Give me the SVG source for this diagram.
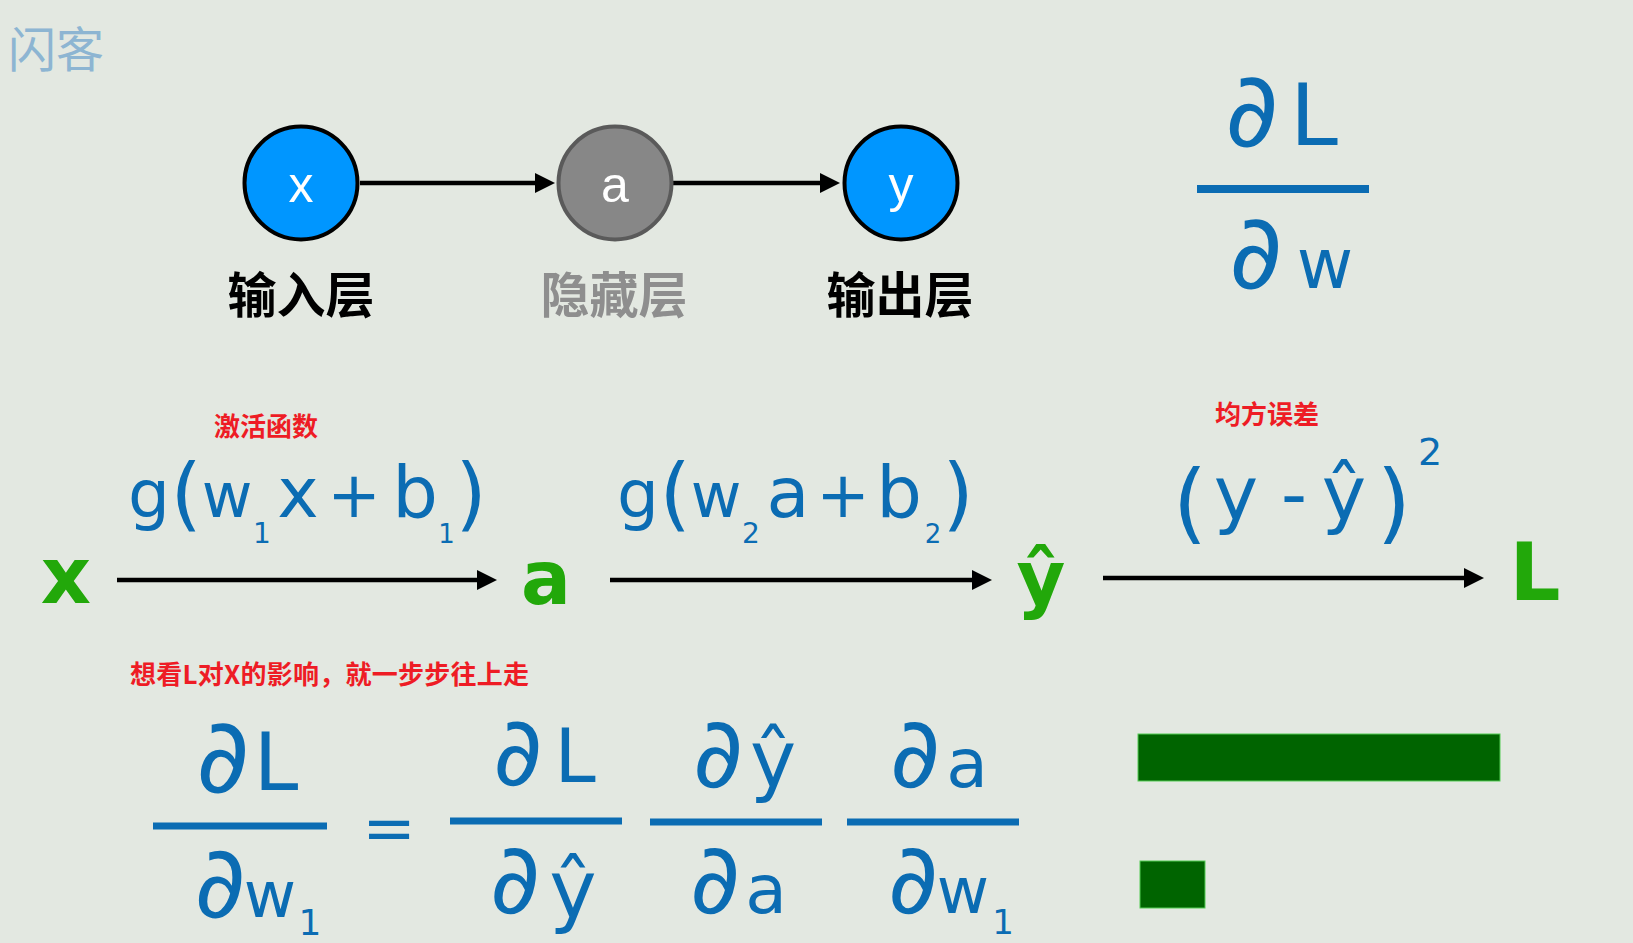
<svg xmlns="http://www.w3.org/2000/svg" width="1633" height="943" viewBox="0 0 1633 943">
<style>
.bg{fill:#e3e8e1}
.node circle{stroke-width:4}
.blue{stroke:#000;fill:#0096ff}
.grey{fill:#878787;stroke:#5a5a5a}
.nl{font-family:"Liberation Sans",Arial,sans-serif;font-size:50px;fill:#fff;text-anchor:middle}
.lab{font-family:"Noto Sans CJK SC",sans-serif;font-weight:700;font-size:49px;text-anchor:middle}
.m{font-family:"DejaVu Sans",sans-serif;fill:#0b6cb3;text-anchor:middle}
.gr{font-family:"DejaVu Sans",sans-serif;fill:#22a80a;font-weight:bold;text-anchor:middle}
.red{font-family:"Noto Sans CJK SC",sans-serif;font-weight:700;fill:#ee1c25;font-size:26px}
.conn{stroke:#000;stroke-width:4.5;fill:none}
.fl{fill:#0b6cb3}
.gb{fill:#006400;stroke:#55cc55;stroke-width:1}
.wm{font-family:"Noto Sans CJK SC",sans-serif;font-size:48px;fill:#8db5d2}
</style>
<defs>
<marker id="ah" markerWidth="20" markerHeight="20" refX="8" refY="10" orient="auto" markerUnits="userSpaceOnUse">
<path d="M0,0 L20,10 L0,20 z" fill="#000"/>
</marker>
</defs>
<rect class="bg" x="0" y="0" width="1633" height="943"/>

<text class="wm" x="8" y="67">闪客</text>

<g id="connectors">
<line class="conn" x1="360" y1="183" x2="543" y2="183" marker-end="url(#ah)"/>
<line class="conn" x1="673" y1="183" x2="828" y2="183" marker-end="url(#ah)"/>
<line class="conn" x1="117" y1="580" x2="485" y2="580" marker-end="url(#ah)"/>
<line class="conn" x1="610" y1="580" x2="980" y2="580" marker-end="url(#ah)"/>
<line class="conn" x1="1103" y1="578" x2="1472" y2="578" marker-end="url(#ah)"/>
</g>

<g id="node-x" class="node">
<circle class="blue" cx="301" cy="183" r="56.5"/>
<text class="nl" x="301" y="202">x</text>
<text class="lab" x="301" y="313" fill="#000">输入层</text>
</g>
<g id="node-a" class="node">
<circle class="grey" cx="615" cy="183" r="56.5"/>
<text class="nl" x="615" y="202">a</text>
<text class="lab" x="614" y="313" fill="#8e8e8e">隐藏层</text>
</g>
<g id="node-y" class="node">
<circle class="blue" cx="901" cy="183" r="56.5"/>
<text class="nl" x="901" y="202">y</text>
<text class="lab" x="900" y="313" fill="#000">输出层</text>
</g>

<g id="frac-top">
<text class="m"><tspan x="1252" y="146" font-size="104">∂</tspan><tspan x="1314" y="145" font-size="86">L</tspan></text>
<rect class="fl" x="1197" y="185" width="172" height="8"/>
<text class="m"><tspan x="1256" y="288" font-size="104">∂</tspan><tspan x="1325" y="288" font-size="69">w</tspan></text>
</g>

<g id="chain">
<text class="gr" x="66" y="603" font-size="78">x</text>
<text class="gr" x="546" y="604" font-size="74">a</text>
<text class="gr" x="1041" y="604" font-size="75">ŷ</text>
<text class="gr" x="1535" y="600" font-size="80">L</text>

<text class="red" x="266" y="436" text-anchor="middle">激活函数</text>
<text class="red" x="1267" y="424" text-anchor="middle">均方误差</text>

<text id="f1" class="m"><tspan x="149" y="517" font-size="66">g</tspan><tspan x="186" y="521" font-size="80">(</tspan><tspan x="227" y="517" font-size="62">w</tspan><tspan x="262" y="543" font-size="28">1</tspan><tspan x="298" y="517" font-size="70">x</tspan><tspan x="354" y="517" font-size="64">+</tspan><tspan x="415" y="517" font-size="72">b</tspan><tspan x="446.5" y="543" font-size="26">1</tspan><tspan x="471" y="521" font-size="80">)</tspan></text>

<text id="f2" class="m"><tspan x="638" y="517" font-size="66">g</tspan><tspan x="675" y="521" font-size="80">(</tspan><tspan x="716" y="517" font-size="62">w</tspan><tspan x="751" y="543" font-size="28">2</tspan><tspan x="788" y="517" font-size="70">a</tspan><tspan x="843" y="517" font-size="64">+</tspan><tspan x="899" y="517" font-size="72">b</tspan><tspan x="933" y="543" font-size="26">2</tspan><tspan x="958" y="521" font-size="80">)</tspan></text>

<text id="f3" class="m"><tspan x="1190" y="532" font-size="88">(</tspan><tspan x="1236" y="519" font-size="75">y</tspan><tspan x="1294" y="519" font-size="72">-</tspan><tspan x="1344" y="519" font-size="75">ŷ</tspan><tspan x="1394" y="532" font-size="88">)</tspan><tspan x="1430" y="465" font-size="38">2</tspan></text>
</g>

<text class="red" x="130" y="684" textLength="399">想看L对X的影响，就一步步往上走</text>

<g id="equation">
<text class="m"><tspan x="223" y="792" font-size="104">∂</tspan><tspan x="276" y="790" font-size="80">L</tspan></text>
<rect class="fl" x="153" y="822.5" width="174" height="7"/>
<text class="m"><tspan x="220" y="917" font-size="100">∂</tspan><tspan x="270" y="917" font-size="64">w</tspan><tspan x="310" y="935" font-size="36">1</tspan></text>

<text class="m" x="389" y="850" font-size="64">=</text>

<text class="m"><tspan x="518" y="785" font-size="96">∂</tspan><tspan x="575" y="782" font-size="74">L</tspan></text>
<rect class="fl" x="450" y="817.5" width="172" height="7"/>
<text class="m"><tspan x="515" y="913" font-size="98">∂</tspan><tspan x="573" y="917" font-size="80">ŷ</tspan></text>

<text class="m"><tspan x="718" y="787" font-size="98">∂</tspan><tspan x="773" y="787" font-size="78">ŷ</tspan></text>
<rect class="fl" x="650" y="818.5" width="172" height="7"/>
<text class="m"><tspan x="715" y="913" font-size="98">∂</tspan><tspan x="766" y="913" font-size="68">a</tspan></text>

<text class="m"><tspan x="915" y="787" font-size="98">∂</tspan><tspan x="967" y="787" font-size="68">a</tspan></text>
<rect class="fl" x="847" y="818.5" width="172" height="7"/>
<text class="m"><tspan x="913" y="913" font-size="98">∂</tspan><tspan x="963" y="913" font-size="64">w</tspan><tspan x="1003" y="934" font-size="34">1</tspan></text>
</g>

<g id="bars">
<rect class="gb" x="1138" y="734" width="362" height="47"/>
<rect class="gb" x="1140" y="861" width="65" height="47"/>
</g>
</svg>
